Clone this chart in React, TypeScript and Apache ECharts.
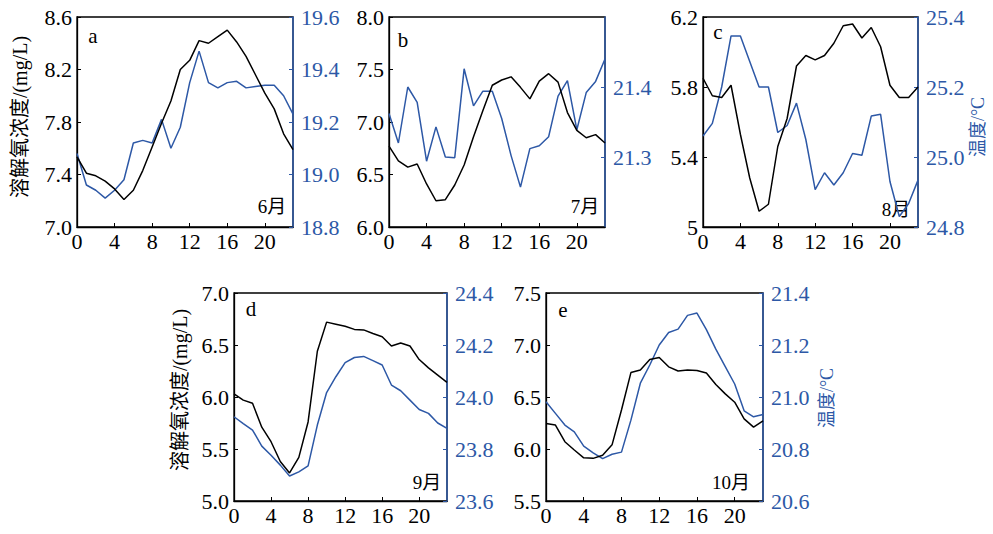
import React, { useEffect, useRef } from "react";
import * as echarts from "echarts";

const hours = [0, 1, 2, 3, 4, 5, 6, 7, 8, 9, 10, 11, 12, 13, 14, 15, 16, 17, 18, 19, 20, 21, 22, 23];

// June (a)
const doJun = [7.535, 7.41, 7.39, 7.35, 7.29, 7.21, 7.28, 7.43, 7.61, 7.79, 7.96, 8.2, 8.27, 8.42, 8.4, 8.45, 8.5, 8.41, 8.3, 8.16, 8.02, 7.9, 7.71, 7.59];
const tJun = [19.08, 18.96, 18.94, 18.91, 18.94, 18.98, 19.12, 19.13, 19.12, 19.21, 19.1, 19.18, 19.35, 19.47, 19.35, 19.33, 19.35, 19.355, 19.33, 19.335, 19.34, 19.34, 19.3, 19.23];
// July (b)
const doJul = [6.77, 6.63, 6.57, 6.6, 6.41, 6.25, 6.26, 6.4, 6.59, 6.86, 7.11, 7.35, 7.4, 7.43, 7.33, 7.22, 7.39, 7.46, 7.38, 7.09, 6.92, 6.85, 6.88, 6.8];
const tJul = [21.362, 21.32, 21.4, 21.378, 21.294, 21.343, 21.3, 21.299, 21.426, 21.373, 21.394, 21.394, 21.355, 21.302, 21.257, 21.312, 21.316, 21.329, 21.387, 21.409, 21.339, 21.392, 21.408, 21.44];
// August (c)
const doAug = [5.85, 5.75, 5.74, 5.81, 5.53, 5.28, 5.09, 5.13, 5.46, 5.62, 5.92, 5.98, 5.955, 5.98, 6.05, 6.15, 6.16, 6.08, 6.14, 6.03, 5.81, 5.74, 5.74, 5.8];
const tAug = [25.06, 25.096, 25.2, 25.346, 25.346, 25.273, 25.2, 25.2, 25.07, 25.09, 25.154, 25.05, 24.907, 24.955, 24.92, 24.955, 25.01, 25.005, 25.117, 25.122, 24.93, 24.83, 24.867, 24.934];
// September (d)
const doSep = [6.03, 5.97, 5.94, 5.71, 5.57, 5.38, 5.27, 5.42, 5.76, 6.44, 6.72, 6.7, 6.68, 6.65, 6.645, 6.61, 6.58, 6.49, 6.52, 6.49, 6.36, 6.28, 6.21, 6.14];
const tSep = [23.924, 23.898, 23.873, 23.811, 23.776, 23.738, 23.696, 23.712, 23.735, 23.892, 24.017, 24.078, 24.132, 24.152, 24.156, 24.14, 24.123, 24.046, 24.024, 23.988, 23.952, 23.937, 23.9, 23.879];
// October (e)
const doOct = [6.246, 6.23, 6.07, 5.99, 5.915, 5.91, 5.94, 6.04, 6.375, 6.735, 6.76, 6.86, 6.88, 6.79, 6.75, 6.76, 6.755, 6.73, 6.62, 6.53, 6.45, 6.29, 6.21, 6.27];
const tOct = [20.982, 20.937, 20.892, 20.866, 20.811, 20.785, 20.763, 20.78, 20.788, 20.911, 21.053, 21.123, 21.2, 21.248, 21.261, 21.314, 21.323, 21.259, 21.184, 21.117, 21.05, 20.947, 20.924, 20.933];

const panelLetters = ["a", "b", "c", "d", "e"];
const monthLabels = ["6月", "7月", "8月", "9月", "10月"];
const doRanges = [
  [7.0, 8.6, 0.4],
  [6.0, 8.0, 0.5],
  [5.0, 6.2, 0.4],
  [5.0, 7.0, 0.5],
  [5.5, 7.5, 0.5],
];
const tRanges = [
  [18.8, 19.6, 0.2],
  [21.2, 21.5, 0.1],
  [24.8, 25.4, 0.2],
  [23.6, 24.4, 0.2],
  [20.6, 21.4, 0.2],
];
const doName = "溶解氧浓度/(mg/L)";
const tName = "温度/°C";

const BLUE = "#2d58a6";
const FONT = "'Liberation Serif', 'Times New Roman', 'Noto Sans CJK SC', serif";

const grids = [
  { left: 77, top: 17, width: 216, height: 210 },
  { left: 389, top: 17, width: 216, height: 210 },
  { left: 703, top: 17, width: 215, height: 210 },
  { left: 234, top: 293, width: 213, height: 208 },
  { left: 546, top: 293, width: 217, height: 208 },
];
const letterPos = [
  [93, 36],
  [403, 40],
  [718, 32],
  [251, 309],
  [563, 310],
];
const monthPos = [
  [272, 206],
  [585, 206],
  [896, 209],
  [427, 482],
  [731, 482],
];

export default function App() {
  const ref = useRef<HTMLDivElement>(null);
  useEffect(() => {
    if (!ref.current) return;
    const chart = echarts.init(ref.current, null, { renderer: "svg" });
    const doSets = [doJun, doJul, doAug, doSep, doOct];
    const tSets = [tJun, tJul, tAug, tSep, tOct];

    const xAxis: any[] = [];
    const yAxis: any[] = [];
    const series: any[] = [];
    grids.forEach((g, i) => {
      xAxis.push({
        type: "value",
        gridIndex: i,
        min: 0,
        max: 23,
        interval: 4,
        axisLine: { show: true, lineStyle: { color: "#000", width: 1.3 } },
        axisTick: { show: true, inside: true, length: 4, lineStyle: { color: "#000" } },
        axisLabel: { show: true, margin: 3, showMaxLabel: false, color: "#000", fontFamily: FONT, fontSize: 22 },
        splitLine: { show: false },
      });
      const [dmin, dmax, dint] = doRanges[i];
      yAxis.push({
        type: "value",
        gridIndex: i,
        position: "left",
        min: dmin,
        max: dmax,
        interval: dint,
        axisLine: { show: true, lineStyle: { color: "#000", width: 1.3 } },
        axisTick: { show: true, inside: true, length: 4, lineStyle: { color: "#000" } },
        axisLabel: {
          margin: 5,
          color: "#000",
          fontFamily: FONT,
          fontSize: 22,
          formatter: (v: number) => (i === 2 && Math.abs(v - 5) < 1e-6 ? "5" : v.toFixed(1)),
        },
        splitLine: { show: false },
      });
      const [tmin, tmax, tint] = tRanges[i];
      yAxis.push({
        type: "value",
        gridIndex: i,
        position: "right",
        min: tmin,
        max: tmax,
        interval: tint,
        axisLine: { show: true, lineStyle: { color: BLUE, width: 1.5 } },
        axisTick: { show: true, inside: true, length: 4, lineStyle: { color: BLUE } },
        axisLabel: {
          margin: 8,
          color: BLUE,
          fontFamily: FONT,
          fontSize: 22,
          showMinLabel: i !== 1,
          showMaxLabel: i !== 1,
          formatter: (v: number) => v.toFixed(1),
        },
        splitLine: { show: false },
      });
      series.push({
        type: "line",
        xAxisIndex: i,
        yAxisIndex: i * 2,
        data: hours.map((h, k) => [h, doSets[i][k]]),
        showSymbol: false,
        lineStyle: { color: "#000", width: 1.5 },
        z: 3,
      });
      series.push({
        type: "line",
        xAxisIndex: i,
        yAxisIndex: i * 2 + 1,
        data: hours.map((h, k) => [h, tSets[i][k]]),
        showSymbol: false,
        lineStyle: { color: BLUE, width: 1.5 },
        z: 2,
      });
    });

    const graphic: any[] = [];
    panelLetters.forEach((l, i) => {
      graphic.push({
        type: "text",
        x: letterPos[i][0],
        y: letterPos[i][1],
        style: { text: l, font: `21px ${FONT}`, fill: "#000", align: "center", verticalAlign: "middle", textAlign: "center", textVerticalAlign: "middle" },
      });
    });
    monthLabels.forEach((m, i) => {
      graphic.push({
        type: "text",
        x: monthPos[i][0],
        y: monthPos[i][1],
        style: { text: m, font: `19px ${FONT}`, fill: "#000", align: "center", verticalAlign: "middle", textAlign: "center", textVerticalAlign: "middle" },
      });
    });
    [[20, 117], [180, 390]].forEach(([x, y]) => {
      graphic.push({
        type: "text",
        x,
        y,
        rotation: Math.PI / 2,
        style: { text: doName, font: `20px ${FONT}`, fill: "#000", align: "center", verticalAlign: "middle", textAlign: "center", textVerticalAlign: "middle" },
      });
    });
    [[978, 127], [827, 398]].forEach(([x, y]) => {
      graphic.push({
        type: "text",
        x,
        y,
        rotation: Math.PI / 2,
        style: { text: tName, font: `18px ${FONT}`, fill: BLUE, align: "center", verticalAlign: "middle", textAlign: "center", textVerticalAlign: "middle" },
      });
    });

    chart.setOption({
      animation: false,
      backgroundColor: "#fff",
      grid: grids.map((g) => ({ ...g, show: true, borderColor: "#000", borderWidth: 1.3, containLabel: false })),
      xAxis,
      yAxis,
      series,
      graphic,
    });
    return () => chart.dispose();
  }, []);
  return <div ref={ref} style={{ position: "fixed", left: 0, top: 0, width: 993, height: 534 }} />;
}
